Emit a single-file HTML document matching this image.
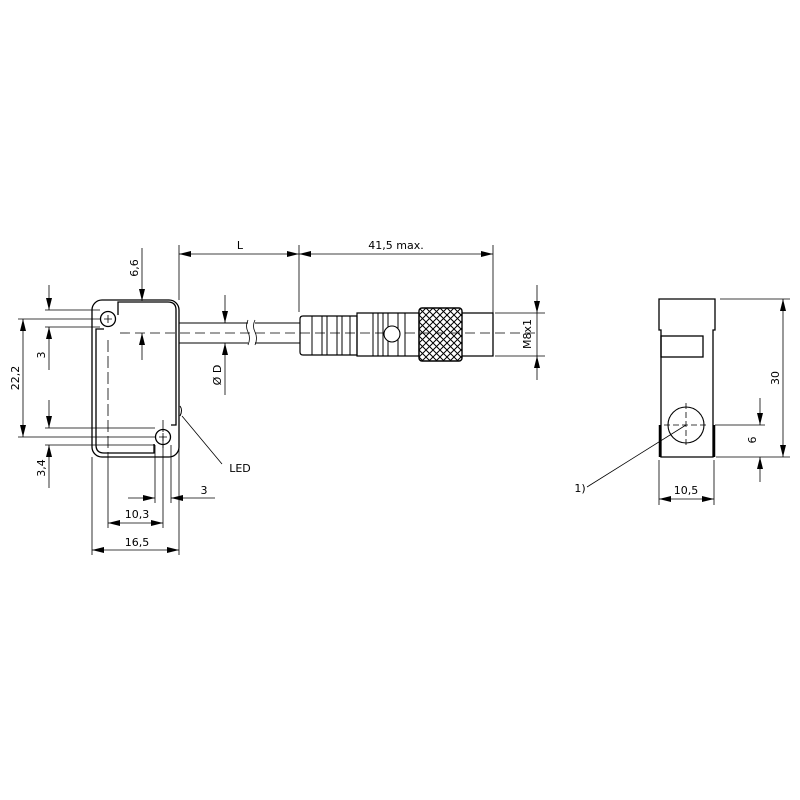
<!DOCTYPE html>
<html><head><meta charset="utf-8"><style>html,body{margin:0;padding:0;background:#fff}svg{display:block}</style></head>
<body>
<svg width="800" height="800" viewBox="0 0 800 800" xmlns="http://www.w3.org/2000/svg" font-family="'DejaVu Sans','Liberation Sans',sans-serif" font-size="11">
<defs>
<marker id="a" viewBox="0 0 12 6" refX="12" refY="3" markerWidth="12" markerHeight="6" markerUnits="userSpaceOnUse" orient="auto-start-reverse"><path d="M0,0L12,3L0,6z" fill="#000"/></marker>
<pattern id="k" width="7" height="7" patternUnits="userSpaceOnUse" x="419" y="308"><path d="M0,0L7,7M7,0L0,7" stroke="#000" stroke-width="1"/></pattern>
</defs>
<g fill="none" stroke="#000" stroke-width="1">
<rect x="92" y="300" width="87" height="157" rx="10" stroke-width="1.3"/>
<path d="M118,315V302H168Q176,302 176,310V425H171" stroke-width="1.3"/>
<path d="M104,329H96V445Q96,453 104,453H154V444" stroke-width="1.3"/>
<circle cx="108" cy="319" r="7.5" stroke-width="1.3"/>
<circle cx="163" cy="437" r="7.5" stroke-width="1.3"/>
<path d="M104,319h8M108,315v8M159,437h8M163,433v8" stroke-width="0.8"/>
<path d="M180,406q3,4 0,10" stroke-width="1"/>
<path d="M182,416L222,464" stroke-width="0.8"/>
<path d="M120,333H540" stroke-dasharray="10,5" stroke-width="0.8"/>
<path d="M108,340V455M163,420V452" stroke-dasharray="12,4" stroke-width="0.8"/>
<path d="M179,323H248M179,343H248M255,323H300M255,343H300" stroke-width="1.1"/>
<path d="M248,320q-3,6 0,12q3,6 0,13M255,320q-3,6 0,12q3,6 0,13" stroke-width="0.8"/>
<path d="M303,316H357V355H303Q300,355 300,352V319Q300,316 303,316Z" stroke-width="1.2"/>
<path d="M312,316V355M322,316V355M327,316V355M337,316V355M342,316V355M350,316V355" stroke-width="1"/>
<path d="M357,313H419V356H357Z" stroke-width="1.2"/>
<path d="M373,313V356M378,313V356M383,313V356M388,313V356M398,313V356M405,313V356" stroke-width="1"/>
<circle cx="392" cy="334" r="8" fill="#fff" stroke-width="1.1"/>
<rect x="419" y="308" width="43" height="53" rx="3" fill="url(#k)" stroke-width="1.4"/>
<path d="M462,313H493V356H462" stroke-width="1.3"/>
<g stroke-width="0.8">
<path d="M179,245V300M299,245V312M493,245V313"/>
<path d="M179,254H299" marker-start="url(#a)" marker-end="url(#a)"/>
<path d="M299,254H493" marker-start="url(#a)" marker-end="url(#a)"/>
<path d="M495,313H545M495,356H545"/>
<path d="M537,285V313" marker-end="url(#a)"/><path d="M537,380V356" marker-end="url(#a)"/><path d="M537,313V356"/>
<path d="M225,295V323" marker-end="url(#a)"/><path d="M225,395V343" marker-end="url(#a)"/>
<path d="M142,248V301" marker-end="url(#a)"/><path d="M142,360V333" marker-end="url(#a)"/>
<path d="M18,319H100M18,437H155"/>
<path d="M23,319V437" marker-start="url(#a)" marker-end="url(#a)"/>
<path d="M45,310H100M45,327H100"/>
<path d="M49,285V310" marker-end="url(#a)"/><path d="M49,370V327" marker-end="url(#a)"/>
<path d="M45,428H155M45,445H155"/>
<path d="M49,400V428" marker-end="url(#a)"/><path d="M49,488V445" marker-end="url(#a)"/>
<path d="M92,457V555M179,420V555M108,455V528M163,445V528M155,445V503M171,445V503"/>
<path d="M128,498H155" marker-end="url(#a)"/><path d="M215,498H171" marker-end="url(#a)"/>
<path d="M108,523H163" marker-start="url(#a)" marker-end="url(#a)"/>
<path d="M92,550H179" marker-start="url(#a)" marker-end="url(#a)"/>
</g>
<path d="M659,299H715V330H713V457H661V330H659Z" stroke-width="1.3"/>
<rect x="661" y="336" width="42" height="21" stroke-width="1.3"/>
<path d="M660,425V457M714,425V457" stroke-width="2.5"/>
<circle cx="686" cy="425" r="18" stroke-width="1.1"/>
<path d="M664,425h44M686,403v44" stroke-dasharray="6,3" stroke-width="0.8"/>
<path d="M686,425L587,487" stroke-width="0.8"/>
<g stroke-width="0.8">
<path d="M720,299H790M716,457H790M715,425H765"/>
<path d="M783,299V457" marker-start="url(#a)" marker-end="url(#a)"/>
<path d="M760,398V425" marker-end="url(#a)"/><path d="M760,482V457" marker-end="url(#a)"/>
<path d="M659,460V505M714,460V505"/>
<path d="M659,499H714" marker-start="url(#a)" marker-end="url(#a)"/>
</g>
</g>
<g fill="#000" text-anchor="middle">
<text x="240" y="249">L</text>
<text x="396" y="249">41,5 max.</text>
<text x="137" y="518">10,3</text>
<text x="137" y="546">16,5</text>
<text x="204" y="494">3</text>
<text x="240" y="472">LED</text>
<text x="686" y="494">10,5</text>
<text x="580" y="492">1)</text>
<text transform="translate(138,268) rotate(-90)">6,6</text>
<text transform="translate(19,378) rotate(-90)">22,2</text>
<text transform="translate(45,355) rotate(-90)">3</text>
<text transform="translate(45,468) rotate(-90)">3,4</text>
<text transform="translate(221,375) rotate(-90)">Ø D</text>
<text transform="translate(531,334) rotate(-90)">M8x1</text>
<text transform="translate(779,378) rotate(-90)">30</text>
<text transform="translate(756,440) rotate(-90)">6</text>
</g>
</svg>
</body></html>
